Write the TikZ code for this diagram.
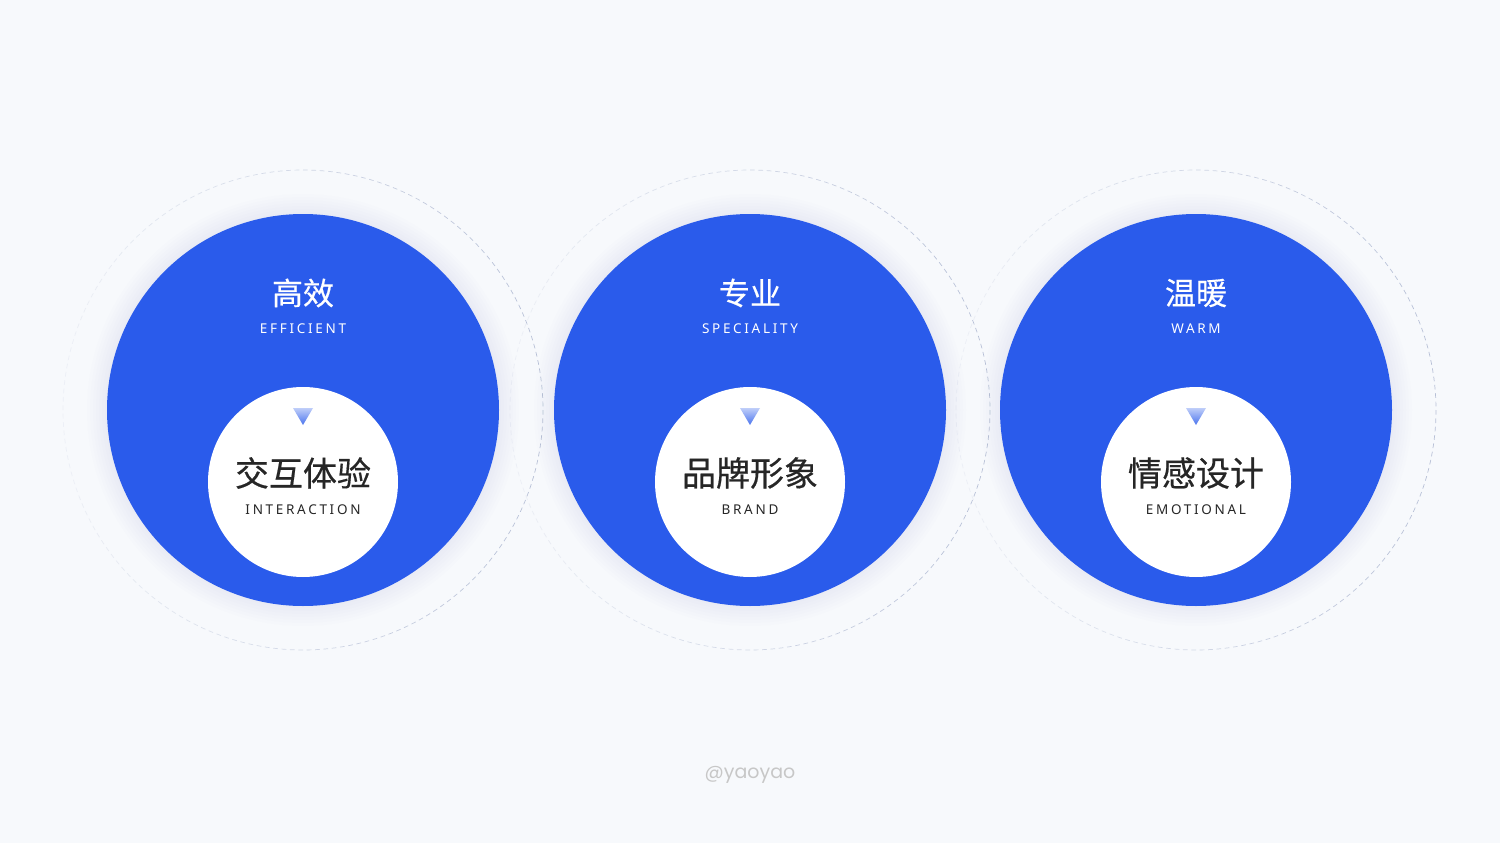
\documentclass[tikz,border=0pt]{standalone}
\usepackage{fontspec}
\newfontfamily\cjk[FakeBold=0.5]{Noto Sans CJK SC}
\newfontfamily\capsfont[LetterSpace=20]{Noto Sans}
\newfontfamily\signfont{Poppins}
\definecolor{bg}{HTML}{F7F9FC}
\definecolor{brandblue}{HTML}{2A5BEB}
\definecolor{ink}{HTML}{262626}
\definecolor{ringgray}{HTML}{8A98BC}
\definecolor{haze}{HTML}{A8B2CC}
\tikzset{
  bigdisc/.style={circle, fill=brandblue, minimum size=392pt, inner sep=0pt},
  smalldisc/.style={circle, fill=white, minimum size=190pt, inner sep=0pt},
  titlelabel/.style={text=white, font=\cjk\fontsize{31}{31}\selectfont},
  sublabel/.style={text=white, font=\capsfont\fontsize{13.5}{13.5}\selectfont},
  corelabel/.style={text=ink, font=\cjk\fontsize{34}{34}\selectfont},
  coresub/.style={text=ink, font=\capsfont\fontsize{13.5}{13.5}\selectfont},
  ring/.style={line width=0.7pt, dash pattern=on 4.7pt off 3.68pt},
}

\begin{document}
\begin{tikzpicture}[x=1pt,y=-1pt]
  \fill[bg] (0,0) rectangle (1500,843);
  \useasboundingbox (0,0) rectangle (1500,843);
  % dashed rings, fading to the left
  \foreach \cx in {303,750,1196} {
    \foreach \a in {0,10,...,350} {
      \pgfmathsetmacro\mix{int(10+25*(1+cos(\a+5)))}
      \draw[ring, color=ringgray!\mix!bg] (\cx,410) ++(\a:240) arc (\a:\a+10:240);
    }
  }
  % soft shadow
  \foreach \cx in {303,750,1196} {
    \foreach \r in {2,5,...,20}
      \fill[haze, opacity=0.02] (\cx,410) circle (196+\r);
  }
  \foreach \cx/\ttl/\en/\nm/\nmen [count=\i] in {
      303/高效/EFFICIENT/交互体验/INTERACTION,
      750/专业/SPECIALITY/品牌形象/BRAND,
      1196/温暖/WARM/情感设计/EMOTIONAL} {
    \node[bigdisc] (disc\i) at (\cx,410) {};
    \node[smalldisc] (core\i) at (\cx,482) {};
    \node[titlelabel] (ttl\i) at (\cx,293) {\ttl};
    \node[sublabel] (en\i) at (\cx,329) {\en};
    \node[corelabel] (nm\i) at (\cx,473) {\nm};
    \node[coresub] (nmen\i) at (\cx,510) {\nmen};
    \shade[top color=brandblue!30, bottom color=brandblue!85]
      (\cx-10,408) -- (\cx+10,408) -- (\cx,425) -- cycle;
  }
  \node[font=\signfont\fontsize{19}{19}\selectfont, text=black!22] (sign) at (750,775) {@yaoyao};
\end{tikzpicture}
\end{document}
